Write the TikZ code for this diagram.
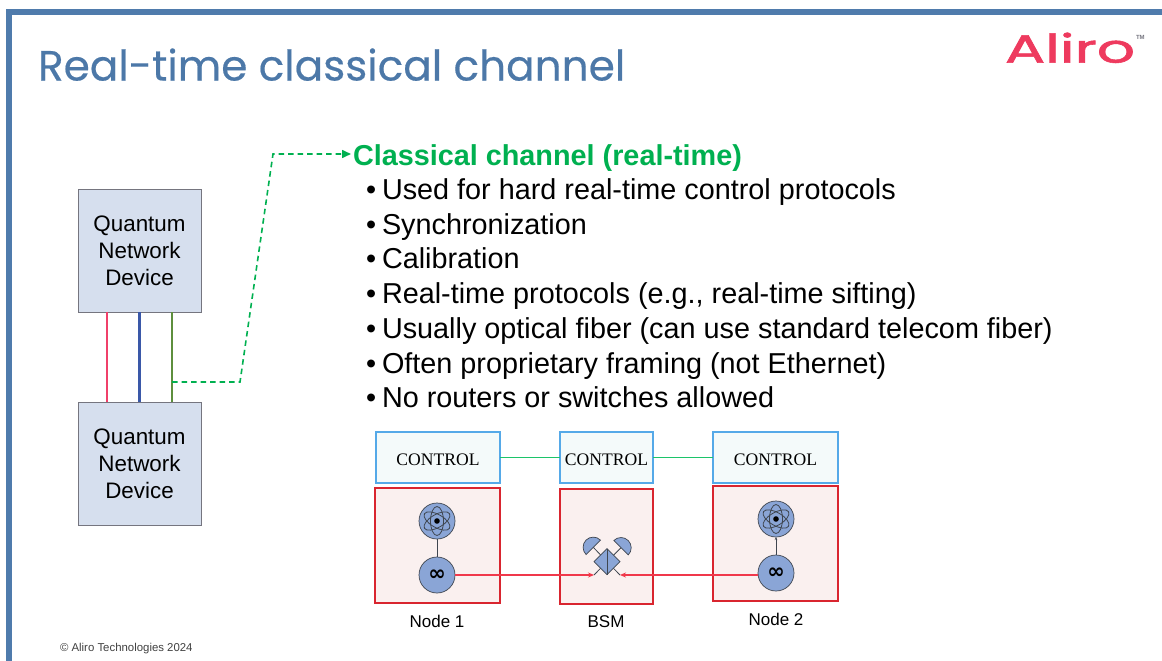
\documentclass[tikz,border=0pt]{standalone}
\usepackage{fontspec}
\setmainfont{Liberation Sans}
\newfontfamily\titlefont[FakeBold=0.4]{Poppins}
\newfontfamily\logofont[FakeBold=1.4]{Poppins}
\newfontfamily\timesfont{Liberation Serif}
\newfontfamily\inffont{DejaVu Sans}
\usetikzlibrary{arrows.meta,calc}
\definecolor{framecol}{HTML}{4F7BAC}
\definecolor{titlecol}{HTML}{4C78A8}
\definecolor{logocol}{HTML}{EE3A5E}
\definecolor{hgreen}{HTML}{00B050}
\definecolor{devfill}{HTML}{D6DFEE}
\definecolor{devline}{HTML}{75757F}
\definecolor{ctlfill}{HTML}{F4FAFA}
\definecolor{ctlline}{HTML}{55A9E8}
\definecolor{nodefill}{HTML}{FAF0EF}
\definecolor{nodeline}{HTML}{D9252F}
\definecolor{qfill}{HTML}{8AA5D6}
\definecolor{qline}{HTML}{3F4650}
\definecolor{linkgreen}{HTML}{1CC46A}
\definecolor{linkred}{HTML}{F0384B}
\definecolor{wirered}{HTML}{F0406A}
\definecolor{wireblue}{HTML}{3A58A8}
\definecolor{wiregreen}{HTML}{5E8F3E}
\tikzset{
  every node/.style={inner sep=0pt,outer sep=0pt},
  devbox/.style={draw=devline,fill=devfill,line width=1pt,minimum width=123pt,minimum height=123pt,align=center,font=\fontsize{22.4}{27}\selectfont},
  ctlbox/.style={draw=ctlline,fill=ctlfill,line width=1.1pt,minimum height=51pt,font=\timesfont\fontsize{17.6}{18}\selectfont},
  nodebox/.style={draw=nodeline,fill=nodefill,line width=1.2pt},
  qcirc/.style={circle,draw=qline,fill=qfill,line width=.7pt,minimum size=36pt},
  qpart/.style={draw=qline,fill=qfill,line width=.7pt},
  qstem/.style={draw=qline,line width=.8pt},
  bodyline/.style={anchor=base west,font=\fontsize{28.8}{32}\selectfont},
  bulletmark/.style={anchor=base west,font=\fontsize{28.8}{32}\selectfont},
  caption/.style={font=\fontsize{17}{19}\selectfont,anchor=base},
  atomorbit/.style={draw=qline,line width=.8pt},
  inflabel/.style={font=\inffont\bfseries\fontsize{21}{21}\selectfont},
  redlink/.style={draw=linkred,line width=1.5pt},
  redarrow/.style={redlink,-{Stealth[length=6pt,width=5pt]}},
  greenlink/.style={draw=linkgreen,line width=1.9pt},
  wire/.style={line width=2.2pt},
  dashgreen/.style={draw=hgreen,line width=1.6pt,dash pattern=on 5.5pt off 4pt}
}
\newcommand{\atomdetail}[1]{%
  \foreach \ang in {90,30,-30}{\draw[atomorbit,rotate around={\ang:(#1)}] (#1) ellipse [x radius=14.5pt,y radius=6.5pt];}
  \fill[black] (#1) circle [radius=2.8pt];
}
\begin{document}
\begin{tikzpicture}[x=1pt,y=-1pt]
\useasboundingbox (0,0) rectangle (1162,661);
% frame
\fill[framecol] (6,9) rectangle (1162,15.5);
\fill[framecol] (6,9) rectangle (12,661);
% title
\node[anchor=base west,text=titlecol] (title) at (38,80.5) {\resizebox{587pt}{!}{\titlefont Real-time classical channel}};
% logo
\node[anchor=south west,text=logocol] (logo) at (1005,63) {\resizebox{130pt}{30pt}{\logofont Aliro}};
\node[anchor=base west,text=devline,font=\bfseries\fontsize{6}{6}\selectfont] (tm) at (1136,40) {TM};
% left devices
\node[devbox] (dev1) at (139.5,250.5) {Quantum\\Network\\Device};
\node[devbox] (dev2) at (139.5,463.5) {Quantum\\Network\\Device};
\coordinate (w1a) at (107,312); \coordinate (w1b) at (107,402);
\coordinate (w2a) at (139.5,312); \coordinate (w2b) at (139.5,402);
\coordinate (w3a) at (172,312); \coordinate (w3b) at (172,402);
\draw[wire,draw=wirered] (w1a) -- (w1b);
\draw[wire,draw=wireblue] (w2a) -- (w2b);
\draw[wire,draw=wiregreen] (w3a) -- (w3b);
% heading and dashed arrow
\node[anchor=base west,text=hgreen,font=\bfseries\fontsize{28.8}{32}\selectfont] (head) at (353,165) {Classical channel (real-time)};
\coordinate (tap) at (172,382);
\coordinate (dashend) at (351,154);
\draw[dashgreen,-{Triangle[length=9pt,width=8pt]}] (tap) -- (240,382) -- (273,154) -- (dashend);
% bullets
\foreach \yy/\txt/\nm in {199/Used for hard real-time control protocols/b1,
  234/Synchronization/b2,
  268/Calibration/b3,
  303/{Real-time protocols (e.g., real-time sifting)}/b4,
  338/Usually optical fiber (can use standard telecom fiber)/b5,
  373/Often proprietary framing (not Ethernet)/b6,
  407/No routers or switches allowed/b7}{
  \node[bulletmark] (\nm m) at (366,\yy) {•};
  \node[bodyline] (\nm) at (382,\yy) {\txt};
}
% control boxes
\node[ctlbox,minimum width=124pt] (c1) at (438,457.5) {\raisebox{-7.5pt}[0pt][0pt]{CONTROL}};
\node[ctlbox,minimum width=93pt] (c2) at (606.5,457.5) {\raisebox{-7.5pt}[0pt][0pt]{CONTROL}};
\node[ctlbox,minimum width=125pt] (c3) at (775.5,457.5) {\raisebox{-7.5pt}[0pt][0pt]{CONTROL}};
\draw[greenlink] (c1) -- (c2);
\draw[greenlink] (c2) -- (c3);
% node boxes
\node[nodebox,minimum width=125pt,minimum height=115pt] (n1) at (437.5,545.5) {};
\node[nodebox,minimum width=93pt,minimum height=115pt] (n2) at (606.5,546.5) {};
\node[nodebox,minimum width=125pt,minimum height=115pt] (n3) at (775.5,543.5) {};
% node 1
\node[qcirc] (a1) at (437,521) {};
\atomdetail{a1.center}
\node[qcirc,inflabel] (i1) at (437,575) {∞};
\draw[qstem] (a1) -- (i1);
% node 2
\node[qcirc] (a2) at (776,519) {};
\atomdetail{a2.center}
\node[qcirc,inflabel] (i2) at (776,573) {∞};
\draw[qstem,-{Stealth[length=3pt,width=2.5pt]}] (i2) -- (a2);
% BSM
\coordinate (bc) at (607,561.7);
\coordinate (dl) at (593.3,547.3);
\coordinate (dr) at (621,547.7);
\coordinate (pl) at (594,575);
\coordinate (pr) at (620,575);
\draw[qstem] (bc) -- (dl);
\draw[qstem] (bc) -- (dr);
\draw[qstem] (bc) -- (pl);
\draw[qstem] (bc) -- (pr);
\draw[qpart] ($(dl)+(7.2,-7.2)$) arc[start angle=45,delta angle=180,radius=10.2pt] -- cycle;
\draw[qpart] ($(dr)+(-7.2,-7.2)$) arc[start angle=135,delta angle=-180,radius=10.2pt] -- cycle;
\draw[qpart] (594,561.7) -- (607,548.7) -- (620,561.7) -- (607,574.7) -- cycle;
\draw[qstem] (607,548.7) -- (607,574.7);
\draw[redarrow] (i1) -- (pl);
\draw[redarrow] (i2.west |- pr) -- (pr);
% captions
\node[caption] (l1) at (437,627) {Node 1};
\node[caption] (l2) at (606,627) {BSM};
\node[caption] (l3) at (776,625) {Node 2};
% footer
\node[anchor=base west,text=black!75,font=\fontsize{11.4}{12}\selectfont] (foot) at (60,651) {© Aliro Technologies 2024};
\end{tikzpicture}
\end{document}
